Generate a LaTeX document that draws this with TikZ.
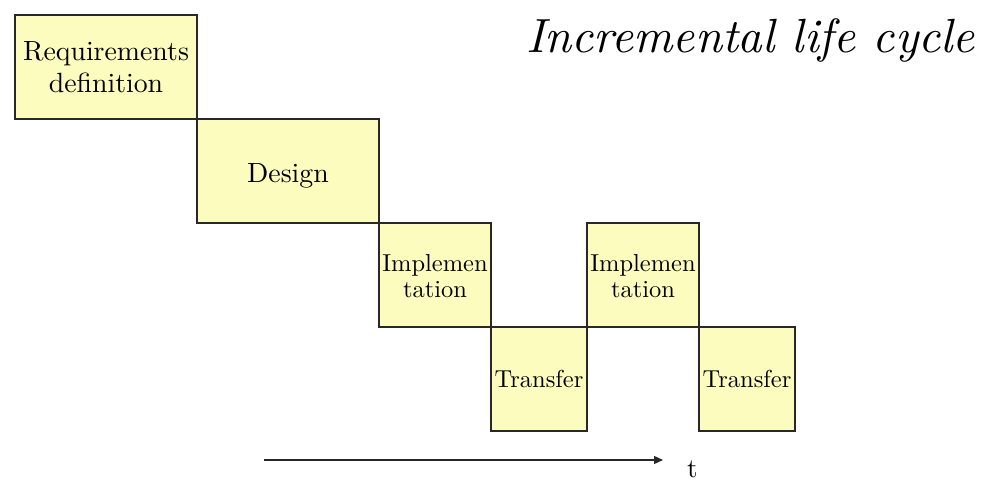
\documentclass[tikz,border=0pt]{standalone}
\usetikzlibrary{arrows.meta}
\definecolor{boxfill}{RGB}{252,252,190}
\definecolor{boxline}{RGB}{40,40,40}
\newcommand{\bigtxt}[2][-3pt]{\raisebox{#1}[\height][\depth]{\scalebox{2.78}{\begin{tabular}{@{}c@{}}#2\end{tabular}}}}
\newcommand{\smalltxt}[2][-3pt]{\raisebox{#1}[\height][\depth]{\scalebox{2.45}{\begin{tabular}{@{}c@{}}#2\end{tabular}}}}
\tikzset{
  phase/.style={draw=boxline, fill=boxfill, line width=1.2pt, inner sep=0pt, align=center},
  bigphase/.style={phase, minimum width=182pt, minimum height=104pt},
  smallphase/.style={phase, minimum height=104pt},
  timeline/.style={line width=1.2pt, draw=boxline, -{Triangle[length=9pt,width=8pt]}}
}
\begin{document}
\begin{tikzpicture}[x=1pt,y=-1pt]
\useasboundingbox (0,0) rectangle (993,489);
\node[bigphase] (req) at (106,67) {\bigtxt{Requirements\\[-0.5pt]definition}};
\node[bigphase] (des) at (288,171) {\bigtxt[-5pt]{Design}};
\node[smallphase, minimum width=112pt] (imp1) at (435,275) {\smalltxt[-3.5pt]{Implemen\\[-1.1pt]tation}};
\node[smallphase, minimum width=96pt] (tr1) at (539,379) {\smalltxt{Transfer}};
\node[smallphase, minimum width=112pt] (imp2) at (643,275) {\smalltxt[-3.5pt]{Implemen\\[-1.1pt]tation}};
\node[smallphase, minimum width=96pt] (tr2) at (747,379) {\smalltxt{Transfer}};
\node[anchor=base east, inner sep=0pt] (title) at (975,53) {\scalebox{4.8}{\itshape Incremental life cycle}};
\node[anchor=base west, inner sep=0pt] (t) at (687,477) {\scalebox{2.7}{t}};
\coordinate (tail) at (264,460);
\coordinate (head) at (663,460);
\draw[timeline] (tail) -- (head);
\end{tikzpicture}
\end{document}
